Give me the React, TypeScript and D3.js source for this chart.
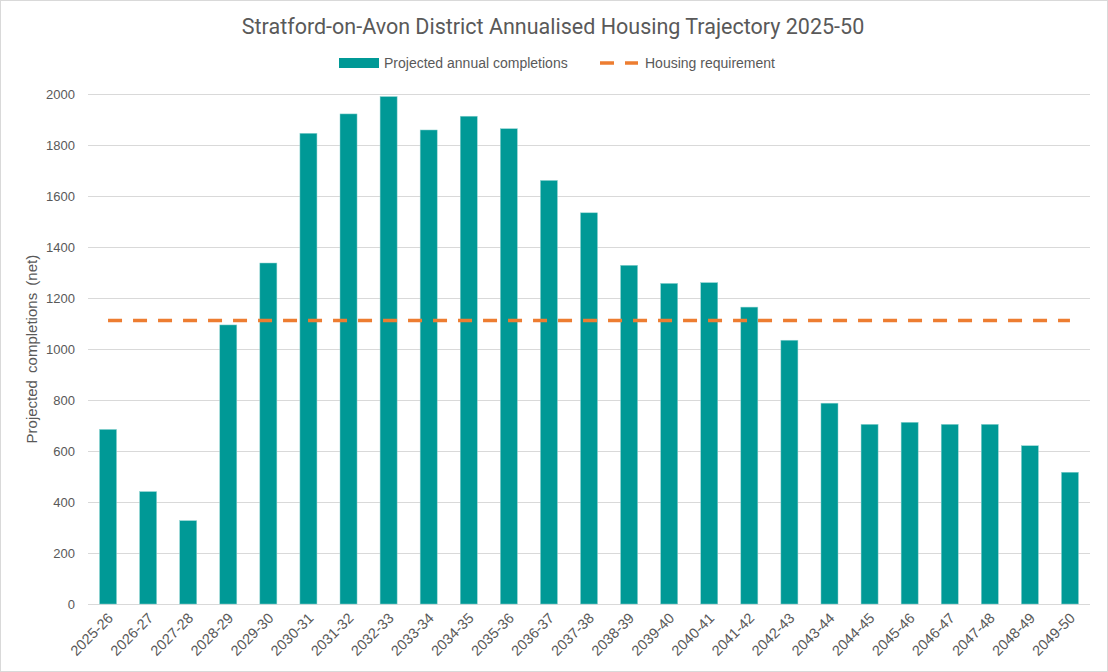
import { useRef, useEffect } from 'react';
import * as d3 from 'd3';

const years = [
  '2025-26', '2026-27', '2027-28', '2028-29', '2029-30', '2030-31', '2031-32', '2032-33', '2033-34',
  '2034-35', '2035-36', '2036-37', '2037-38', '2038-39', '2039-40', '2040-41', '2041-42', '2042-43',
  '2043-44', '2044-45', '2045-46', '2046-47', '2047-48', '2048-49', '2049-50',
];
const completions = [
  685, 441, 327, 1095, 1338, 1847, 1923, 1991, 1860, 1914, 1865, 1662, 1535, 1329, 1258, 1261, 1165,
  1035, 788, 705, 713, 705, 705, 621, 517,
];
const requirement = years.map(() => 1112);
const yTicks = [0, 200, 400, 600, 800, 1000, 1200, 1400, 1600, 1800, 2000];

const WIDTH = 1108;
const HEIGHT = 672;
const PLOT = { left: 88, right: 1090, top: 94.3, bottom: 604 };
const TEAL = '#009996';
const ORANGE = '#ED7D31';
const TEXT = '#595959';
const FONT = '"Liberation Sans", Arial, sans-serif';

export default function App() {
  const svgRef = useRef<SVGSVGElement>(null);

  useEffect(() => {
    if (!svgRef.current) return;
    const svg = d3.select(svgRef.current);
    svg.selectAll('*').remove();

    const x = d3.scaleBand().domain(years).range([PLOT.left, PLOT.right]).paddingInner(0.575).paddingOuter(0.2875);
    const y = d3.scaleLinear().domain([0, 2000]).range([PLOT.bottom, PLOT.top]);

    // background + outer border
    svg.append('rect')
      .attr('x', 0.5).attr('y', 0.5)
      .attr('width', WIDTH - 1).attr('height', HEIGHT - 1)
      .attr('fill', '#fff').attr('stroke', '#d9d9d9');

    svg.append('text')
      .attr('x', 553).attr('y', 34)
      .attr('text-anchor', 'middle')
      .attr('font-family', '"Liberation Sans Narrow", "Roboto", sans-serif')
      .attr('font-size', 21.5)
      .attr('fill', TEXT)
      .text('Stratford-on-Avon District Annualised Housing Trajectory 2025-50');

    // legend
    const lg = svg.append('g').attr('font-family', FONT).attr('font-size', 14).attr('fill', TEXT);
    lg.append('rect').attr('x', 339).attr('y', 58).attr('width', 40).attr('height', 10).attr('fill', TEAL);
    lg.append('text').attr('x', 384).attr('y', 68).text('Projected annual completions');
    lg.append('line')
      .attr('x1', 600).attr('x2', 638).attr('y1', 63).attr('y2', 63)
      .attr('stroke', ORANGE).attr('stroke-width', 3.5).attr('stroke-dasharray', '14 11');
    lg.append('text').attr('x', 645).attr('y', 68).text('Housing requirement');

    // gridlines
    svg.append('g')
      .selectAll('line')
      .data(yTicks)
      .join('line')
      .attr('x1', PLOT.left).attr('x2', PLOT.right)
      .attr('y1', (d) => Math.round(y(d)) + 0.5).attr('y2', (d) => Math.round(y(d)) + 0.5)
      .attr('stroke', '#d9d9d9').attr('stroke-width', 1);

    // y tick labels
    svg.append('g')
      .selectAll('text')
      .data(yTicks)
      .join('text')
      .attr('x', 75).attr('y', (d) => y(d) + 4.5)
      .attr('text-anchor', 'end')
      .attr('font-family', FONT).attr('font-size', 13).attr('fill', TEXT)
      .text((d) => d);

    // y axis title
    svg.append('text')
      .attr('transform', `translate(37,${(PLOT.top + PLOT.bottom) / 2}) rotate(-90)`)
      .attr('text-anchor', 'middle')
      .attr('font-family', FONT).attr('font-size', 15).attr('fill', TEXT)
      .attr('word-spacing', 3)
      .text('Projected completions (net)');

    // bars
    svg.append('g')
      .selectAll('rect')
      .data(years)
      .join('rect')
      .attr('x', (d) => x(d)!)
      .attr('y', (_, i) => y(completions[i]))
      .attr('width', x.bandwidth())
      .attr('height', (_, i) => PLOT.bottom - y(completions[i]))
      .attr('fill', TEAL)
      .attr('stroke', '#8fd3d1').attr('stroke-width', 0.5);

    // requirement line
    const line = d3.line<string>()
      .x((d) => x(d)! + x.bandwidth() / 2)
      .y((_, i) => y(requirement[i]));
    svg.append('path')
      .datum(years)
      .attr('d', line)
      .attr('fill', 'none')
      .attr('stroke', ORANGE).attr('stroke-width', 3.5).attr('stroke-dasharray', '14 11');

    // x tick labels
    svg.append('g')
      .selectAll('text')
      .data(years)
      .join('text')
      .attr('transform', (d) => `translate(${x(d)! + x.bandwidth() / 2 + 6},${PLOT.bottom + 15}) rotate(-45)`)
      .attr('text-anchor', 'end')
      .attr('font-family', FONT).attr('font-size', 14.5).attr('fill', TEXT)
      .text((d) => d);
  }, []);

  return (
    <svg
      ref={svgRef}
      width={WIDTH}
      height={HEIGHT}
      style={{ position: 'absolute', left: 0, top: 0, display: 'block' }}
    />
  );
}
